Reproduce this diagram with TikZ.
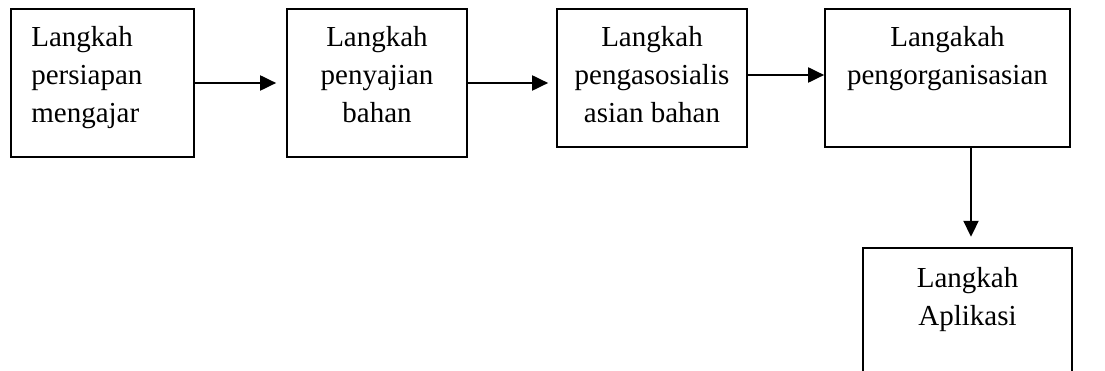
\documentclass[tikz,border=0pt]{standalone}
\usepackage{fontspec}
\setmainfont{Liberation Serif}
\usetikzlibrary{arrows.meta,positioning}
\begin{document}
\begin{tikzpicture}[x=1pt,y=1pt,
  box/.style={draw=black,line width=1.7pt,rectangle,inner sep=0pt},
  lbl/.style={inner sep=0pt,font=\fontsize{29}{38}\selectfont,anchor=north},
  arr/.style={line width=2pt,-{Triangle[length=16pt,width=15pt]}}]
\useasboundingbox (0,0) rectangle (1105,-371);
% boxes
\node[box,minimum width=183pt,minimum height=148pt] (b1) at (102.5,-83) {};
\node[box,minimum width=180pt,minimum height=148pt] (b2) at (377,-83) {};
\node[box,minimum width=190pt,minimum height=138pt] (b3) at (652,-78) {};
\node[box,minimum width=245pt,minimum height=138pt] (b4) at (947.5,-78) {};
\node[inner sep=0pt,minimum width=209pt,minimum height=124pt] (b5) at (967.5,-310) {};
\draw[line width=1.7pt] (b5.south west) -- (b5.north west) -- (b5.north east) -- (b5.south east);
% texts
\node[lbl,anchor=north west,align=left] (t1) at ([xshift=21pt,yshift=-18.2pt]b1.north west) {Langkah\\persiapan\\mengajar};
\node[lbl,align=center] (t2) at ([yshift=-18.2pt]b2.north) {Langkah\\penyajian\\bahan};
\node[lbl,align=center] (t3) at ([yshift=-18.2pt]b3.north) {Langkah\\pengasosialis\\asian bahan};
\node[lbl,align=center] (t4) at ([yshift=-18.2pt]b4.north) {Langakah\\pengorganisasian};
\node[lbl,align=center] (t5) at ([yshift=-19.2pt]b5.north) {Langkah\\Aplikasi};
% arrows
\draw[arr,shorten >=10pt] (b1.east) -- (b2.west);
\draw[arr,shorten >=8pt] (b2.east) -- (b2.east -| b3.west);
\draw[arr] ([yshift=3pt]b3.east) -- ([yshift=3pt]b4.west);
\draw[arr,shorten >=11pt] ([xshift=23.5pt]b4.south) -- ([xshift=3.5pt]b5.north);
\end{tikzpicture}
\end{document}
